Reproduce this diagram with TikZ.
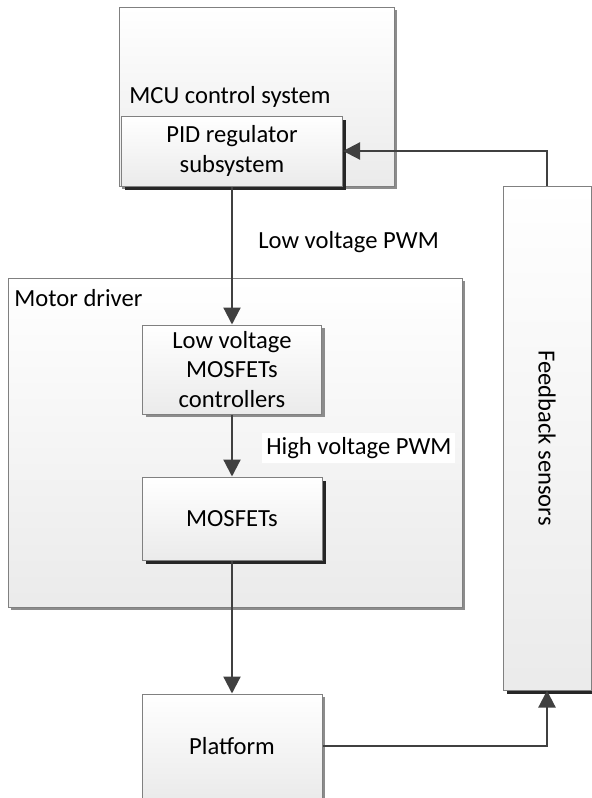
\documentclass[tikz,border=0pt]{standalone}
\usepackage{fontspec}
\setmainfont{Carlito}
\usetikzlibrary{positioning,shadows,arrows.meta}
\tikzset{block/.style={draw=black!50,line width=0.5pt,top color=white,
bottom color=black!8,inner sep=2pt,align=center},
lightshadow/.style={drop shadow={shadow xshift=1.5pt,shadow yshift=-1.5pt,
fill=black!45,opacity=1}},
darkshadow/.style={drop shadow={shadow xshift=1.8pt,shadow yshift=-1.8pt,
fill=black!85,opacity=1}}}
\tikzstyle{conn} = [draw, line width=1.1pt, black!75,
                    -{Triangle[length=8.5pt,width=8.5pt]}]
\tikzstyle{sig}  = [inner sep=0pt, anchor=west]

\begin{document}
\begin{tikzpicture}[x=0.5pt, y=-0.5pt,
			every node/.style={font=\fontsize{12.3}{14.6}\selectfont}]
		\useasboundingbox (0,0) rectangle (591,798);
		% big blocks
		\node[block, lightshadow, minimum width=227pt, minimum height=164.5pt] (driver) at (235,442.5) {};
		\node[block, lightshadow, minimum width=137.5pt, minimum height=89.5pt] (mcu) at (256.5,96.5) {};
		\node[block, darkshadow, minimum width=44pt, minimum height=252pt,
			label={[rotate=-90]center:Feedback sensors}] (feedback) at (547,438) {};
		\node (mcutitle) at (230,97) {MCU control system};
		\node[sig] (drivertitle) at (14,298) {Motor driver};

		% inner blocks
		\node[block, darkshadow, minimum width=110.5pt, minimum height=35pt] (pid) at (232,151) {PID regulator\\subsystem};
		\node[block, lightshadow, minimum width=89.5pt, minimum height=44.5pt] (lvmc) at (232,369.5) {Low voltage\\MOSFETs\\controllers};
		\node[block, darkshadow, minimum width=90pt, minimum height=41.5pt] (mosfets) at (232,518.5) {MOSFETs};
		\node[block, lightshadow, minimum width=90pt, minimum height=52pt] (platform) at (232,746) {Platform};

		% signals
		\node[sig] (lowpwm) at (258,242) {Low voltage PWM};
		\node[sig, fill=white, inner sep=2pt] (highpwm) at (262,448) {High voltage PWM};

		\draw[conn] (pid) -- (lvmc);
		\draw[conn] (lvmc) -- (mosfets);
		\draw[conn] (mosfets) -- (platform);
		\draw[conn] (platform) -| (feedback);
		\draw[conn] (feedback) |- (pid);
	\end{tikzpicture}
\end{document}
